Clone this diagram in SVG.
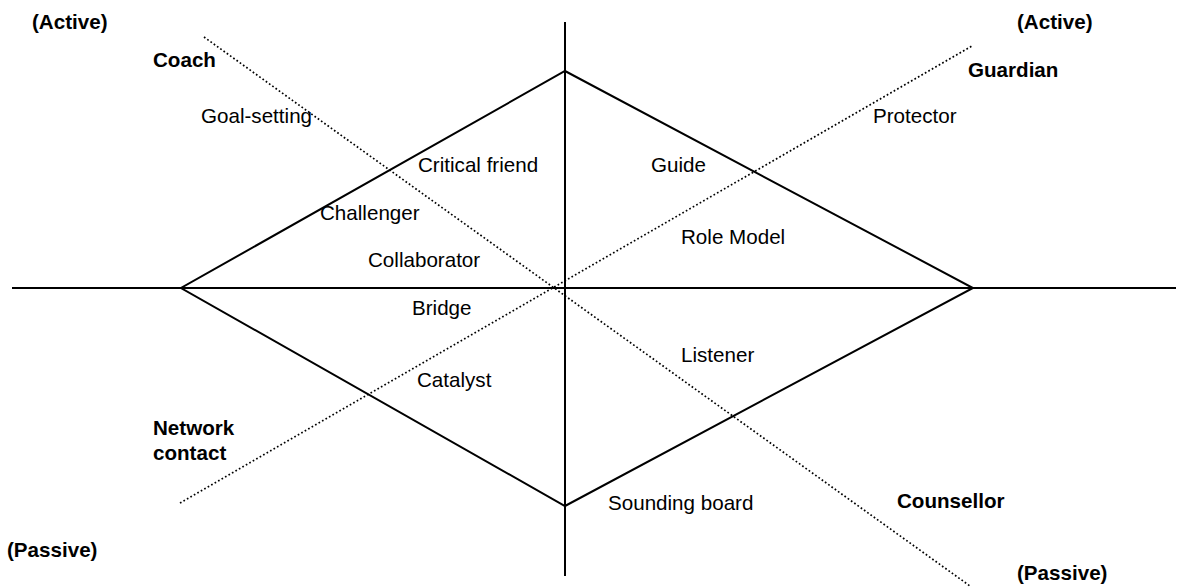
<svg xmlns="http://www.w3.org/2000/svg" width="1192" height="587" viewBox="0 0 1192 587">
  <style>
    .axis { stroke: #000; stroke-width: 2; fill: none; }
    .diamond { stroke: #000; stroke-width: 2; fill: none; stroke-linejoin: miter; }
    .dots { stroke: #000; stroke-width: 1.7; stroke-dasharray: 1.7 2.3; fill: none; }
    text { font-family: "Liberation Sans", Arial, sans-serif; font-size: 20.6px; fill: #000; }
    .role { font-weight: bold; }
  </style>
  <rect width="1192" height="587" fill="#fff"/>

  <!-- axes, diamond and diagonal dividers -->
  <g id="connectors">
    <line class="axis" x1="565" y1="22" x2="565" y2="576"/>
    <line class="axis" x1="12" y1="288" x2="1176" y2="288"/>
    <polygon class="diamond" points="565,71 973,288 565,506 181,288"/>
    <line class="dots" x1="204" y1="37" x2="970" y2="586"/>
    <line class="dots" x1="180" y1="503" x2="972" y2="46"/>
  </g>

  <!-- pole labels -->
  <g id="active-left"><text class="role" x="32" y="29">(Active)</text></g>
  <g id="active-right"><text class="role" x="1017" y="29">(Active)</text></g>
  <g id="passive-left"><text class="role" x="7" y="557">(Passive)</text></g>
  <g id="passive-right"><text class="role" x="1017" y="580">(Passive)</text></g>

  <!-- roles -->
  <g id="coach"><text class="role" x="153" y="67">Coach</text></g>
  <g id="guardian"><text class="role" x="968" y="77">Guardian</text></g>
  <g id="network-contact">
    <text class="role" x="153" y="435">Network</text>
    <text class="role" x="153" y="460">contact</text>
  </g>
  <g id="counsellor"><text class="role" x="897" y="508">Counsellor</text></g>

  <!-- functions -->
  <g id="goal-setting"><text x="201" y="123">Goal-setting</text></g>
  <g id="protector"><text x="873" y="123">Protector</text></g>
  <g id="critical-friend"><text x="418" y="172">Critical friend</text></g>
  <g id="guide"><text x="651" y="172">Guide</text></g>
  <g id="challenger"><text x="320" y="220">Challenger</text></g>
  <g id="role-model"><text x="681" y="244">Role Model</text></g>
  <g id="collaborator"><text x="368" y="267">Collaborator</text></g>
  <g id="bridge"><text x="412" y="315">Bridge</text></g>
  <g id="listener"><text x="681" y="362">Listener</text></g>
  <g id="catalyst"><text x="417" y="387">Catalyst</text></g>
  <g id="sounding-board"><text x="608" y="510">Sounding board</text></g>
</svg>
